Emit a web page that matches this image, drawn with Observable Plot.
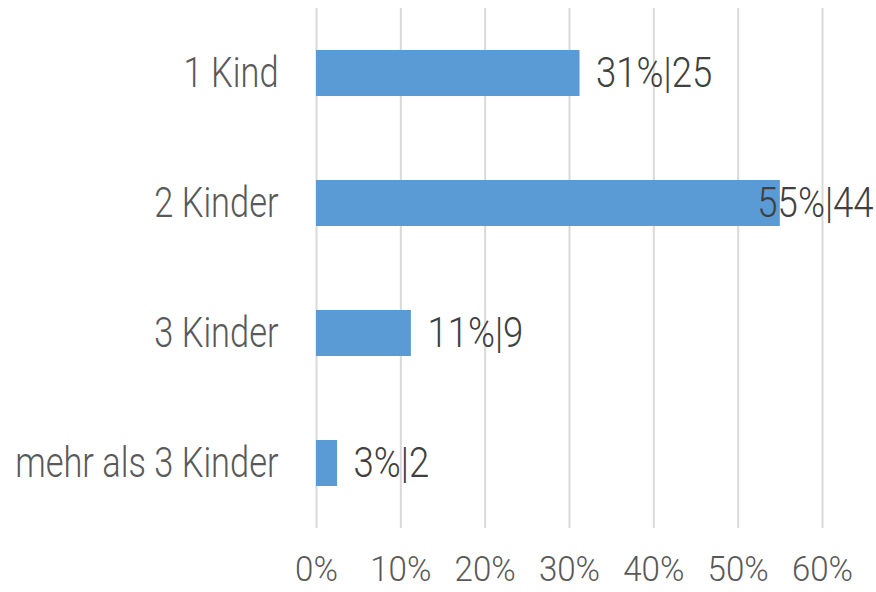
<!DOCTYPE html>
<html>
<head>
<meta charset="utf-8">
<script src="https://cdn.jsdelivr.net/npm/d3@7"></script>
<script src="https://cdn.jsdelivr.net/npm/@observablehq/plot@0.6"></script>
<style>
  html, body { margin: 0; padding: 0; background: #fff; }
  svg text { font-family: Roboto, "DejaVu Sans Condensed", "Liberation Sans", sans-serif; font-weight: 300; }
</style>
</head>
<body>
<div id="chart"></div>
<script>
const categories = ["1 Kind", "2 Kinder", "3 Kinder", "mehr als 3 Kinder"];
const counts = [25, 44, 9, 2];
const percents = [31.25, 55, 11.25, 2.5];
const labels = ["31%|25", "55%|44", "11%|9", "3%|2"];
const xTicks = [0, 10, 20, 30, 40, 50, 60];

const data = categories.map((c, i) => ({cat: c, pct: percents[i], n: counts[i], label: labels[i]}));

const chart = Plot.plot({
  width: 876,
  height: 592,
  marginLeft: 316,
  marginRight: 54,
  marginTop: 8,
  marginBottom: 64,
  style: {fontSize: "36px", color: "#595959", background: "#fff"},
  x: {domain: [0, 60], ticks: xTicks, tickFormat: d => d + "%", label: null, tickSize: 0},
  y: {domain: categories, label: null, tickSize: 0, paddingInner: 0.646, paddingOuter: 0.323, align: 0.5},
  marks: [
    Plot.gridX(xTicks, {stroke: "#D9D9D9", strokeOpacity: 1, strokeWidth: 2}),
    Plot.axisY({tickSize: 0, tickPadding: 38, fontSize: 43, label: null}),
    Plot.axisX(xTicks, {tickSize: 0, tickPadding: 27, fontSize: 36, tickFormat: d => d + "%", label: null}),
    Plot.barX(data, {y: "cat", x: "pct", fill: "#5B9BD5"}),
    Plot.text(data.filter(d => d.pct < 50), {y: "cat", x: "pct", text: "label", textAnchor: "start", dx: 16, fill: "#404040", fontSize: 43}),
    Plot.text(data.filter(d => d.pct >= 50), {y: "cat", x: () => 60, text: "label", textAnchor: "end", dx: 51, fill: "#404040", fontSize: 43})
  ]
});
document.getElementById("chart").appendChild(chart);

// Narrow the glyphs horizontally to mimic the condensed typeface of the original
function scaleFor(t) {
  const g = t.closest("g[aria-label]");
  const lab = g ? g.getAttribute("aria-label") : "";
  if (lab.startsWith("y-axis")) return 0.80;
  if (lab.startsWith("x-axis")) return 0.92;
  return 0.85;
}
chart.querySelectorAll("text").forEach(t => {
  const sx = scaleFor(t);
  const bb = t.getBBox();
  const anchor = getComputedStyle(t).textAnchor;
  const ox = anchor === "end" ? bb.x + bb.width : anchor === "middle" ? bb.x + bb.width / 2 : bb.x;
  const prev = t.getAttribute("transform") || "";
  t.setAttribute("transform", `${prev} translate(${ox},0) scale(${sx},1) translate(${-ox},0)`.trim());
});
</script>
</body>
</html>
